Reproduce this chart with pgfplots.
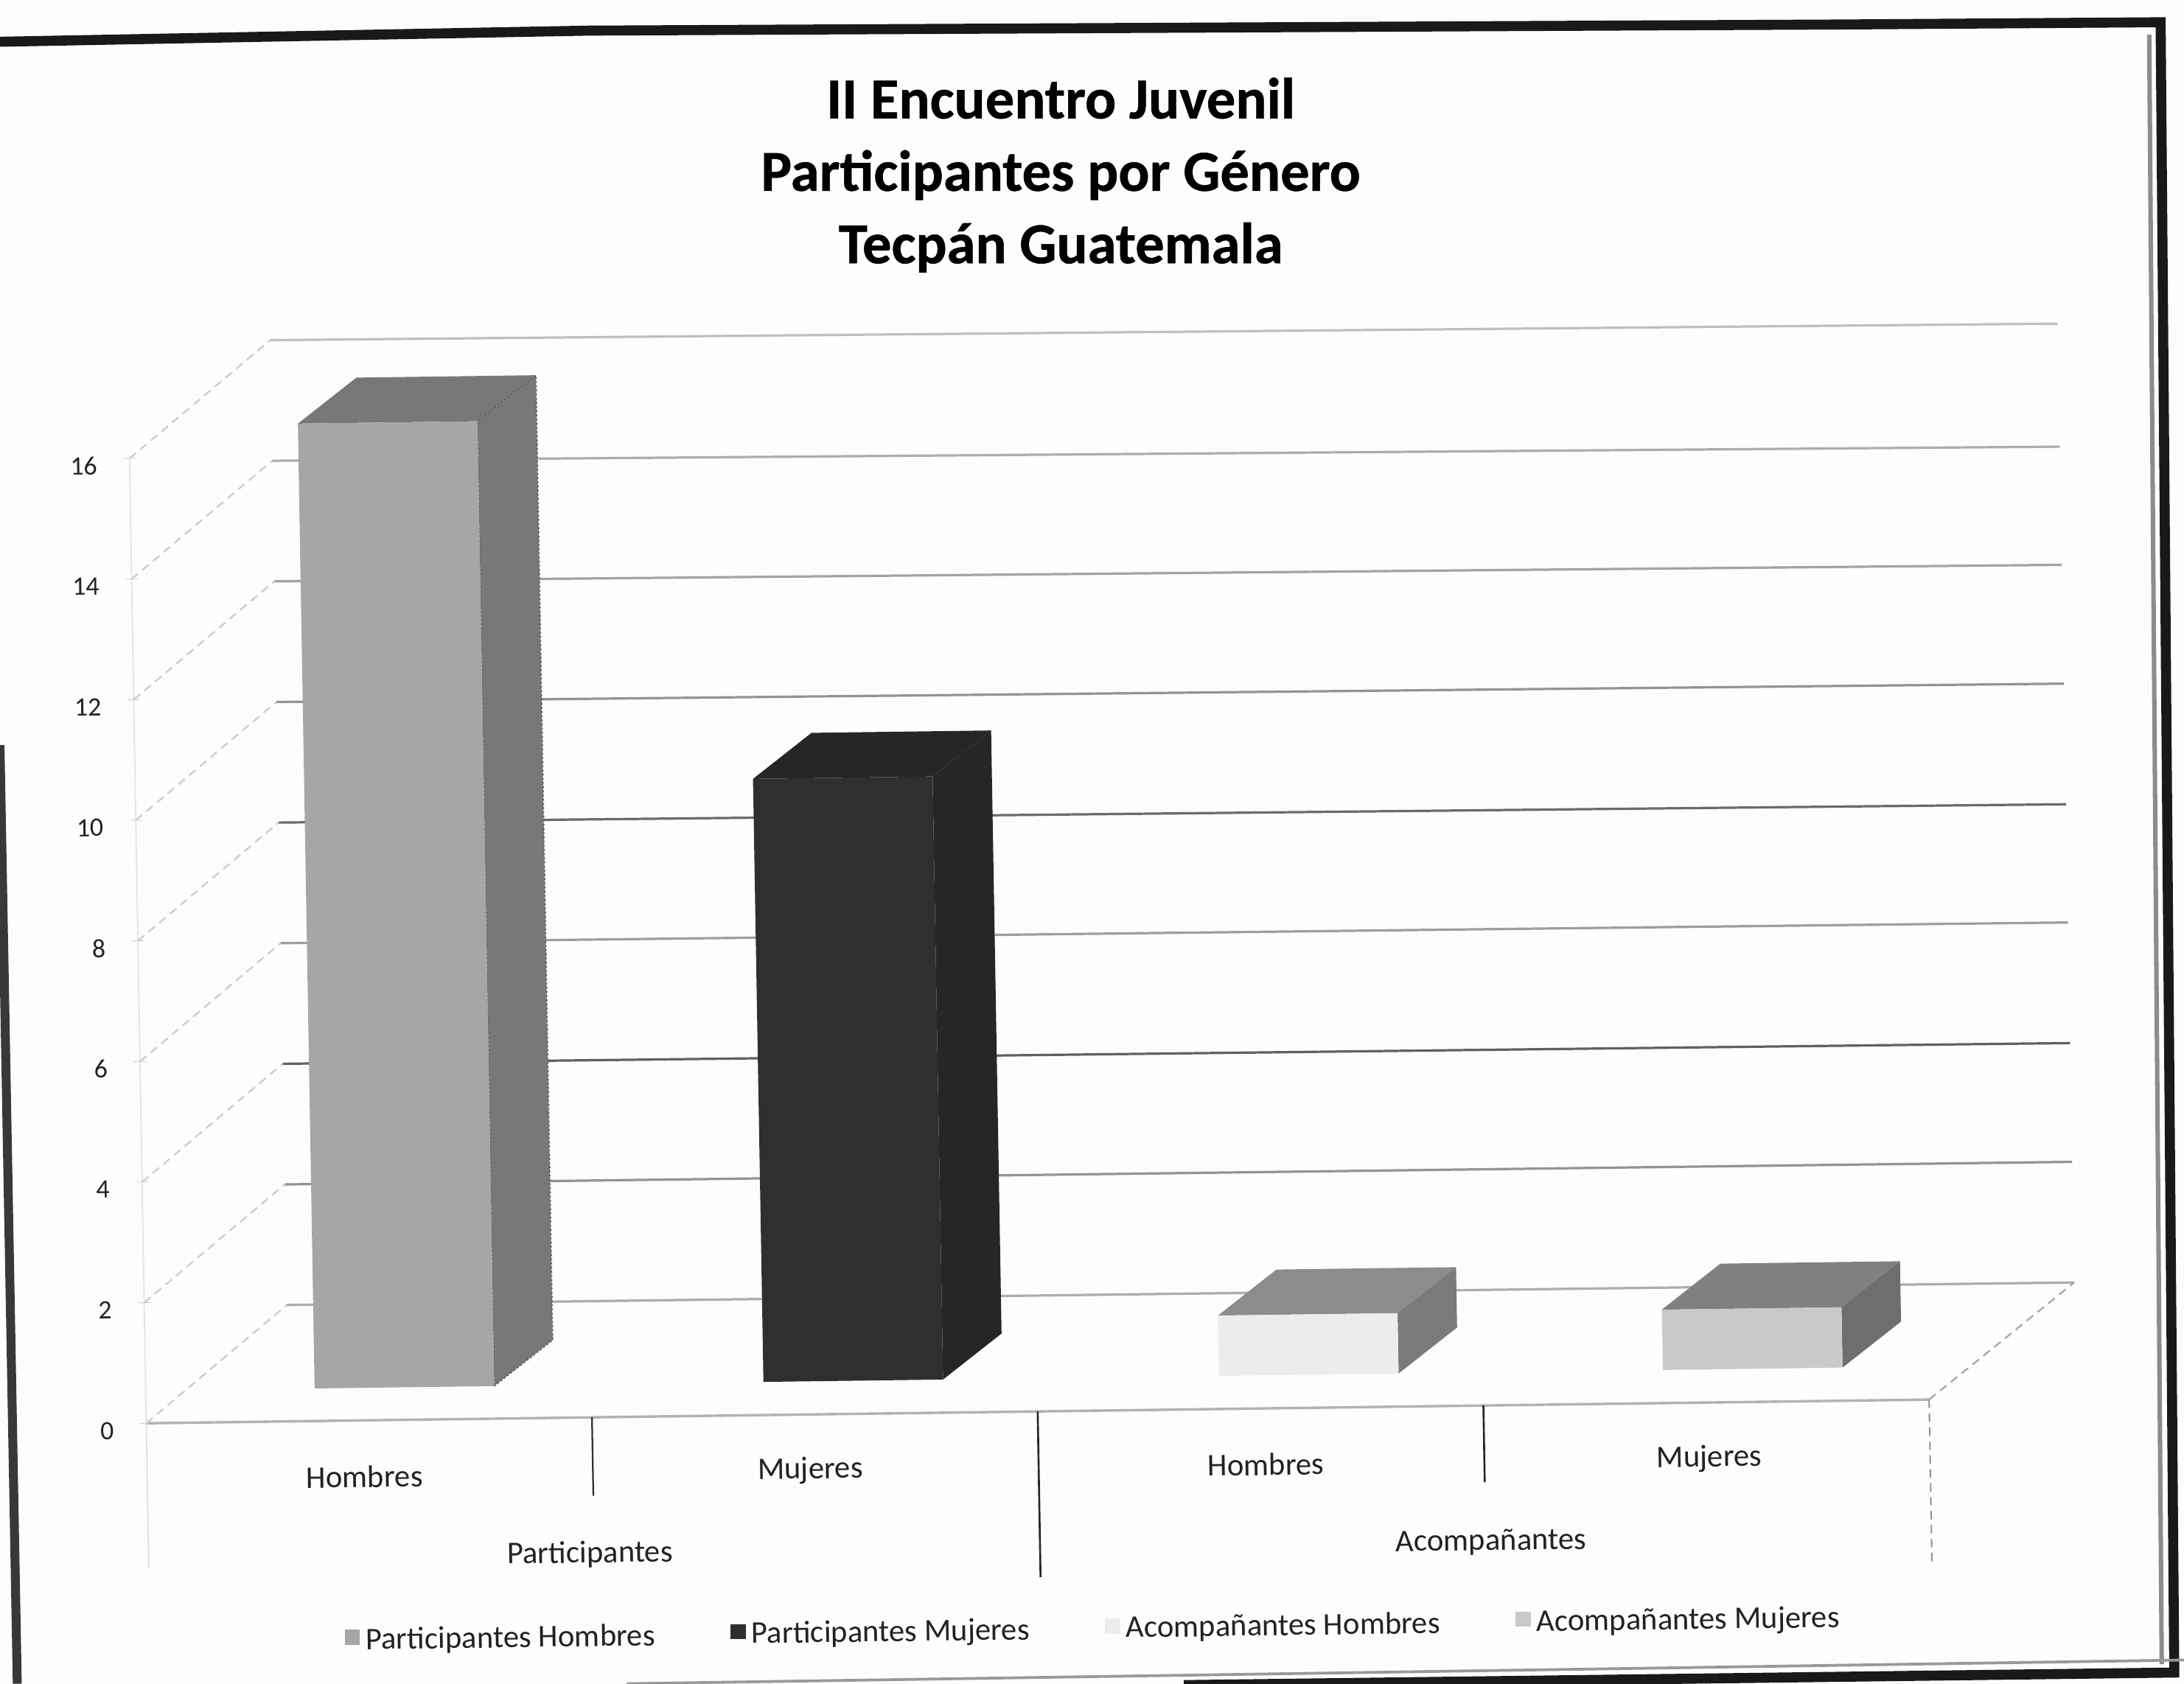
\documentclass[border=0pt]{standalone}
\usepackage{pgfplots}
\pgfplotsset{compat=1.18}
\usepackage{fontspec}
\setmainfont{Carlito}
\newfontfamily\titlefont{Carlito}[BoldFeatures={FakeBold=0.7}]

\definecolor{paper}{HTML}{FDFDFD}
\definecolor{txt}{HTML}{222222}
\definecolor{frontA}{HTML}{A6A6A6}
\definecolor{sideA}{HTML}{787878}
\definecolor{frontB}{HTML}{2F2F2F}
\definecolor{sideB}{HTML}{262626}
\definecolor{frontC}{HTML}{ECECEC}
\definecolor{topC}{HTML}{8C8C8C}
\definecolor{sideC}{HTML}{7A7A7A}
\definecolor{frontD}{HTML}{C9C9C9}
\definecolor{topD}{HTML}{808080}
\definecolor{sideD}{HTML}{6E6E6E}

% back wall line and its diagonal on the side wall
\newcommand{\wall}[4]{%
  \addplot[forget plot,color=#1,line width=0.85pt] coordinates {(0.32,#3) (4.33,#4)};
  \addplot[forget plot,color=black!20,line width=0.6pt,densely dashed] coordinates {(0,#2) (0.32,#3)};
}
% legend text, raised a little because the scan is tilted
\newcommand{\leg}[2]{\raisebox{#1}{\rotatebox{0.76}{#2}}}

\begin{document}
\begin{tikzpicture}
  \useasboundingbox (0,0) rectangle (784pt,604.5pt);
  \fill[paper] (0,0) rectangle (784pt,604.5pt);

  % scanned frame, in page points
  \draw[black!90,line width=3.6pt] (0,589.5pt) -- (211.5pt,593.5pt) -- (661.5pt,595.7pt) -- (775.6pt,596.5pt)
    -- (780.5pt,4pt) -- (425pt,-0.5pt);
  \draw[black!45,line width=1.6pt] (771.5pt,592pt) -- (776pt,7pt);
  \draw[black!40,line width=1pt] (225pt,0pt) -- (784pt,8.5pt);
  \draw[black!78,line width=3.2pt] (0,337pt) -- (6.2pt,0);

  \begin{axis}[
    anchor=origin,
    at={(52.5pt,93.5pt)},
    x={(160pt,2.125pt)},
    y={(-0.375pt,21.65pt)},
    xmin=0,xmax=4,ymin=0,ymax=16,
    clip=false,
    axis lines=left,
    axis line style={-},
    x axis line style={color=black!30,line width=0.9pt},
    y axis line style={color=black!10,line width=0.5pt},
    xtick={0.488,1.488,2.51,3.505},
    xticklabels={Hombres,Mujeres,Hombres,Mujeres},
    x tick style={draw=none},
    x tick label style={rotate=0.76,anchor=center,yshift=-18pt,font=\fontsize{11.3}{13}\selectfont,text=txt},
    ytick={0,2,...,16},
    y tick style={color=black!25},
    y tick label style={rotate=0.76,font=\fontsize{9.5}{11}\selectfont,text=txt,xshift=-6pt,yshift=-2.5pt},
    yticklabel={\pgfmathsetmacro\gap{\tick*0.22}\pgfmathprintnumber{\tick}\hspace{\gap pt}},
    /pgf/number format/assume math mode=true,
    title={II Encuentro Juvenil\\Participantes por Género\\Tecpán Guatemala},
    title style={at={(axis cs:2.10,20.54)},anchor=center,align=center,yshift=-7pt,
      font=\fontsize{20.8}{26}\selectfont\titlefont\bfseries,text=black},
    legend columns=4,
    legend cell align=left,
    legend style={at={(axis cs:2.12,-3.63)},anchor=center,draw=none,fill=none,
      font=\fontsize{11.3}{13}\selectfont,text=txt,
      /tikz/every even column/.append style={column sep=25pt}},
    legend image code/.code={\fill[#1] (0pt,-2.5pt) rectangle (5.5pt,3pt);},
  ]
    % gridlines: color, value at the front, value on the back wall left and right
    \wall{black!32}{0}{1.93}{1.91}
    \wall{black!42}{2}{3.93}{3.91}
    \wall{black!62}{4}{5.93}{5.88}
    \wall{black!38}{6}{7.93}{7.88}
    \wall{black!58}{8}{9.93}{9.84}
    \wall{black!42}{10}{11.93}{11.84}
    \wall{black!36}{12}{13.93}{13.81}
    \wall{black!32}{14}{15.93}{15.77}
    \wall{black!25}{16}{17.93}{17.81}

    % floor edge on the right
    \addplot[forget plot,color=black!35,line width=0.6pt,densely dashed] coordinates {(4,0) (4.33,1.91)};

    % category separators
    \addplot[forget plot,color=black!15,line width=0.4pt] coordinates {(0,0) (0,-2.4)};
    \addplot[forget plot,color=black!80,line width=0.6pt] coordinates {(1,0) (1,-1.3)};
    \addplot[forget plot,color=black!85,line width=0.7pt] coordinates {(2,0) (2,-2.75)};
    \addplot[forget plot,color=black!85,line width=0.7pt] coordinates {(3,0) (3,-1.27)};
    \addplot[forget plot,color=black!45,line width=0.5pt,densely dashed] coordinates {(4,0) (4,-2.7)};

    % Participantes Hombres = 16
    \addplot[forget plot,fill=sideA,draw=none] coordinates {(0.379,16.54) (0.782,16.54) (0.915,17.29) (0.512,17.29)} -- cycle;
    \addplot[forget plot,fill=sideA,draw=black!65,densely dotted,line width=0.5pt] coordinates {(0.782,0.54) (0.915,1.29) (0.915,17.29) (0.782,16.54)} -- cycle;
    \addplot[fill=frontA,draw=none,legend image post style={yshift=-3pt}] coordinates {(0.379,0.54) (0.782,0.54) (0.782,16.54) (0.379,16.54)} -- cycle;

    % Participantes Mujeres = 10
    \addplot[forget plot,fill=sideB,draw=none] coordinates {(1.386,10.55) (1.789,10.55) (1.922,11.30) (1.519,11.30)} -- cycle;
    \addplot[forget plot,fill=sideB,draw=none] coordinates {(1.789,0.55) (1.922,1.30) (1.922,11.30) (1.789,10.55)} -- cycle;
    \addplot[fill=frontB,draw=none,legend image post style={yshift=-1pt}] coordinates {(1.386,0.55) (1.789,0.55) (1.789,10.55) (1.386,10.55)} -- cycle;

    % Acompañantes Hombres = 1
    \addplot[forget plot,fill=topC,draw=none] coordinates {(2.408,1.55) (2.811,1.55) (2.944,2.30) (2.541,2.30)} -- cycle;
    \addplot[forget plot,fill=sideC,draw=none] coordinates {(2.811,0.55) (2.944,1.30) (2.944,2.30) (2.811,1.55)} -- cycle;
    \addplot[fill=frontC,draw=none,legend image post style={yshift=1pt}] coordinates {(2.408,0.55) (2.811,0.55) (2.811,1.55) (2.408,1.55)} -- cycle;

    % Acompañantes Mujeres = 1
    \addplot[forget plot,fill=topD,draw=none] coordinates {(3.404,1.55) (3.807,1.55) (3.940,2.30) (3.537,2.30)} -- cycle;
    \addplot[forget plot,fill=sideD,draw=none] coordinates {(3.807,0.55) (3.940,1.30) (3.940,2.30) (3.807,1.55)} -- cycle;
    \addplot[fill=frontD,draw=none,legend image post style={yshift=3.5pt}] coordinates {(3.404,0.55) (3.807,0.55) (3.807,1.55) (3.404,1.55)} -- cycle;

    \legend{\leg{-6.5pt}{Participantes Hombres},\leg{-2.2pt}{Participantes Mujeres},\leg{2.2pt}{Acompañantes Hombres},\leg{6.5pt}{Acompañantes Mujeres}}

    \node[rotate=0.76,text=txt,font=\fontsize{11.3}{13}\selectfont] at (axis cs:0.99,-2.27) {Participantes};
    \node[rotate=0.76,text=txt,font=\fontsize{11.3}{13}\selectfont] at (axis cs:3.012,-2.27) {Acompañantes};
  \end{axis}
\end{tikzpicture}
\end{document}
